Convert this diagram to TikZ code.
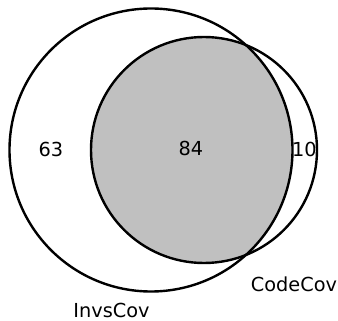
\documentclass[tikz,border=0pt]{standalone}
\usepackage{fontspec}
\setmainfont{DejaVu Sans}
\definecolor{venngray}{HTML}{C0C0C0}
\tikzset{
  setline/.style={draw=black, line width=2.4pt},
  lbl/.style={inner sep=0pt, font=\fontsize{19.3}{22}\selectfont, text=black}
}
\begin{document}
\begin{tikzpicture}[x=1pt, y=-1pt]
\useasboundingbox (0,0) rectangle (338,321);
\coordinate (cI) at (151,150);
\coordinate (cC) at (204,150);
\begin{scope}
  \clip (cI) circle[radius=141.5];
  \fill[fill=venngray] (cC) circle[radius=113];
\end{scope}
\draw[setline] (cI) circle[radius=141.5];
\draw[setline] (cC) circle[radius=113];
\node[lbl] (only63) at (51,149.5) {63};
\node[lbl] (both84) at (191,148) {84};
\node[lbl] (only10) at (304.5,149.5) {10};
\node[lbl] (codecov) at (294,284.3) {CodeCov};
\node[lbl] (invscov) at (111.5,310.5) {InvsCov};
\end{tikzpicture}
\end{document}
